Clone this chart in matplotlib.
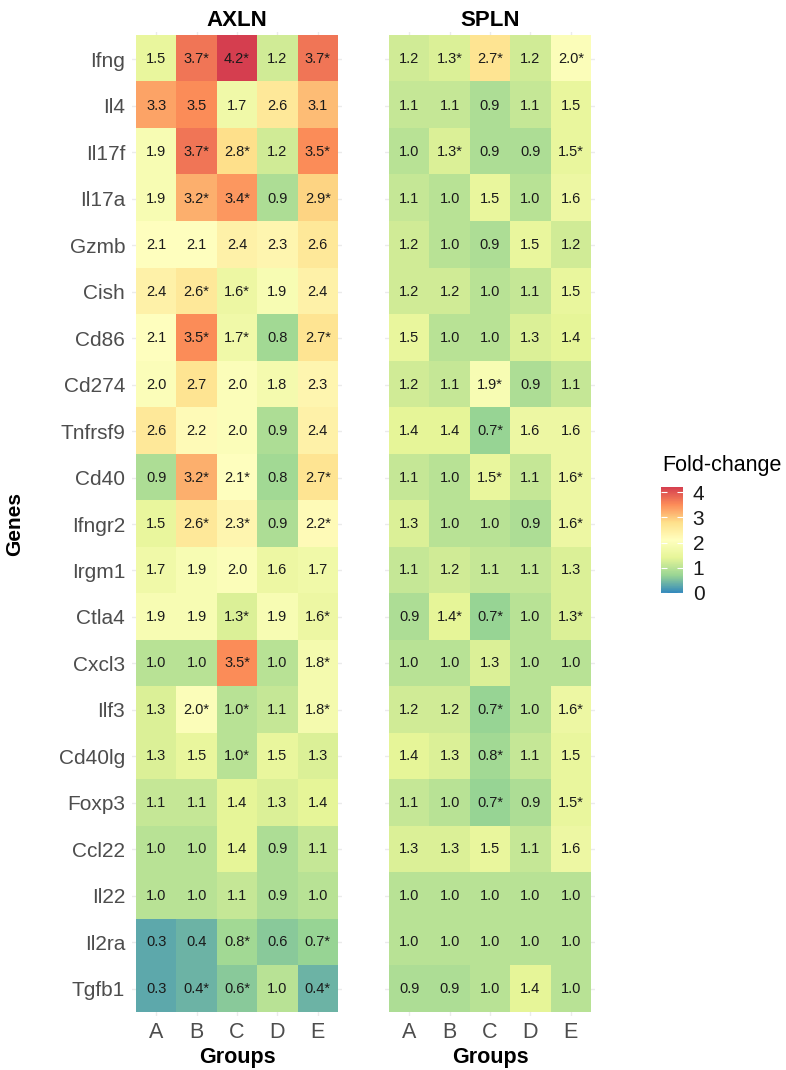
# heatmap of fold-change per gene, AXLN vs SPLN

import numpy as np
import matplotlib
matplotlib.use("Agg")
import matplotlib.pyplot as plt
from matplotlib.colors import LinearSegmentedColormap

plt.rcParams['font.family'] = ['Liberation Sans', 'DejaVu Sans']

genes = ["Ifng", "Il4", "Il17f", "Il17a", "Gzmb", "Cish", "Cd86", "Cd274", "Tnfrsf9",
         "Cd40", "Ifngr2", "Irgm1", "Ctla4", "Cxcl3", "Ilf3", "Cd40lg", "Foxp3", "Ccl22",
         "Il22", "Il2ra", "Tgfb1"]
groups = ["A", "B", "C", "D", "E"]

axln = [[1.5, 3.7, 4.2, 1.2, 3.7],
        [3.3, 3.5, 1.7, 2.6, 3.1],
        [1.9, 3.7, 2.8, 1.2, 3.5],
        [1.9, 3.2, 3.4, 0.9, 2.9],
        [2.1, 2.1, 2.4, 2.3, 2.6],
        [2.4, 2.6, 1.6, 1.9, 2.4],
        [2.1, 3.5, 1.7, 0.8, 2.7],
        [2.0, 2.7, 2.0, 1.8, 2.3],
        [2.6, 2.2, 2.0, 0.9, 2.4],
        [0.9, 3.2, 2.1, 0.8, 2.7],
        [1.5, 2.6, 2.3, 0.9, 2.2],
        [1.7, 1.9, 2.0, 1.6, 1.7],
        [1.9, 1.9, 1.3, 1.9, 1.6],
        [1.0, 1.0, 3.5, 1.0, 1.8],
        [1.3, 2.0, 1.0, 1.1, 1.8],
        [1.3, 1.5, 1.0, 1.5, 1.3],
        [1.1, 1.1, 1.4, 1.3, 1.4],
        [1.0, 1.0, 1.4, 0.9, 1.1],
        [1.0, 1.0, 1.1, 0.9, 1.0],
        [0.3, 0.4, 0.8, 0.6, 0.7],
        [0.3, 0.4, 0.6, 1.0, 0.4]]
axln_sig = [[0, 1, 1, 0, 1],
            [0, 0, 0, 0, 0],
            [0, 1, 1, 0, 1],
            [0, 1, 1, 0, 1],
            [0, 0, 0, 0, 0],
            [0, 1, 1, 0, 0],
            [0, 1, 1, 0, 1],
            [0, 0, 0, 0, 0],
            [0, 0, 0, 0, 0],
            [0, 1, 1, 0, 1],
            [0, 1, 1, 0, 1],
            [0, 0, 0, 0, 0],
            [0, 0, 1, 0, 1],
            [0, 0, 1, 0, 1],
            [0, 1, 1, 0, 1],
            [0, 0, 1, 0, 0],
            [0, 0, 0, 0, 0],
            [0, 0, 0, 0, 0],
            [0, 0, 0, 0, 0],
            [0, 0, 1, 0, 1],
            [0, 1, 1, 0, 1]]

spln = [[1.2, 1.3, 2.7, 1.2, 2.0],
        [1.1, 1.1, 0.9, 1.1, 1.5],
        [1.0, 1.3, 0.9, 0.9, 1.5],
        [1.1, 1.0, 1.5, 1.0, 1.6],
        [1.2, 1.0, 0.9, 1.5, 1.2],
        [1.2, 1.2, 1.0, 1.1, 1.5],
        [1.5, 1.0, 1.0, 1.3, 1.4],
        [1.2, 1.1, 1.9, 0.9, 1.1],
        [1.4, 1.4, 0.7, 1.6, 1.6],
        [1.1, 1.0, 1.5, 1.1, 1.6],
        [1.3, 1.0, 1.0, 0.9, 1.6],
        [1.1, 1.2, 1.1, 1.1, 1.3],
        [0.9, 1.4, 0.7, 1.0, 1.3],
        [1.0, 1.0, 1.3, 1.0, 1.0],
        [1.2, 1.2, 0.7, 1.0, 1.6],
        [1.4, 1.3, 0.8, 1.1, 1.5],
        [1.1, 1.0, 0.7, 0.9, 1.5],
        [1.3, 1.3, 1.5, 1.1, 1.6],
        [1.0, 1.0, 1.0, 1.0, 1.0],
        [1.0, 1.0, 1.0, 1.0, 1.0],
        [0.9, 0.9, 1.0, 1.4, 1.0]]
spln_sig = [[0, 1, 1, 0, 1],
            [0, 0, 0, 0, 0],
            [0, 1, 0, 0, 1],
            [0, 0, 0, 0, 0],
            [0, 0, 0, 0, 0],
            [0, 0, 0, 0, 0],
            [0, 0, 0, 0, 0],
            [0, 0, 1, 0, 0],
            [0, 0, 1, 0, 0],
            [0, 0, 1, 0, 1],
            [0, 0, 0, 0, 1],
            [0, 0, 0, 0, 0],
            [0, 1, 1, 0, 1],
            [0, 0, 0, 0, 0],
            [0, 0, 1, 0, 1],
            [0, 0, 1, 0, 0],
            [0, 0, 1, 0, 1],
            [0, 0, 0, 0, 0],
            [0, 0, 0, 0, 0],
            [0, 0, 0, 0, 0],
            [0, 0, 0, 0, 0]]

panels = [("AXLN", axln, axln_sig), ("SPLN", spln, spln_sig)]

spectral = ["#3288BD", "#99D594", "#E6F598", "#FFFFBF", "#FEE08B", "#FC8D59", "#D53E4F"]
cmap = LinearSegmentedColormap.from_list("spectral_r", spectral)
vmax = max(np.max(axln), np.max(spln))

W, H = 786, 1070
fig = plt.figure(figsize=(W / 100, H / 100), dpi=100)

pad_x, pad_y = 0.1, 0.086
lefts = [132, 385]
for i, (name, vals, sig) in enumerate(panels):
    vals = np.array(vals)
    ax = fig.add_axes([lefts[i] / W, (H - 1016) / H, 210 / W, 984 / H])
    im = ax.imshow(vals, cmap=cmap, vmin=0, vmax=vmax, aspect='auto',
                   interpolation='nearest', zorder=1)
    for r in range(len(genes)):
        for c in range(len(groups)):
            lab = f"{vals[r, c]:.1f}" + ("*" if sig[r][c] else "")
            ax.text(c, r, lab, ha='center', va='center', fontsize=10.5,
                    color='#1a1a1a', zorder=2)
    ax.set_xlim(-0.5 - pad_x, len(groups) - 0.5 + pad_x)
    ax.set_ylim(len(genes) - 0.5 + pad_y, -0.5 - pad_y)
    ax.set_xticks(range(len(groups)))
    ax.set_xticklabels(groups)
    ax.set_yticks(range(len(genes)))
    if i == 0:
        ax.set_yticklabels(genes)
    else:
        ax.set_yticklabels([])
    ax.tick_params(length=0, labelsize=15, colors='#4D4D4D', pad=5)
    ax.tick_params(axis='x', labelsize=15.5, pad=4)
    ax.grid(True, color='#EBEBEB', lw=1)
    ax.set_axisbelow(True)
    for s in ax.spines.values():
        s.set_visible(False)
    ax.set_title(name, fontsize=16, fontweight='bold', pad=4)
    ax.set_xlabel("Groups", fontsize=15.5, fontweight='bold', labelpad=3)

fig.text(15 / W, 1 - 524 / H, "Genes", rotation=90, fontsize=15, fontweight='bold',
         ha='center', va='center')

cax = fig.add_axes([661 / W, (H - 593) / H, 22 / W, 106 / H])
cb = fig.colorbar(im, cax=cax, ticks=[0, 1, 2, 3, 4])
cb.outline.set_visible(False)
cax.tick_params(left=True, right=True, labelleft=False, labelright=True,
                direction='in', length=4, width=0.8, color='white',
                labelsize=15, labelcolor='#1a1a1a', pad=7)
fig.text(662 / W, 1 - 465 / H, "Fold-change", fontsize=15.5, ha='left', va='center')

plt.savefig("out.png", dpi=100)
